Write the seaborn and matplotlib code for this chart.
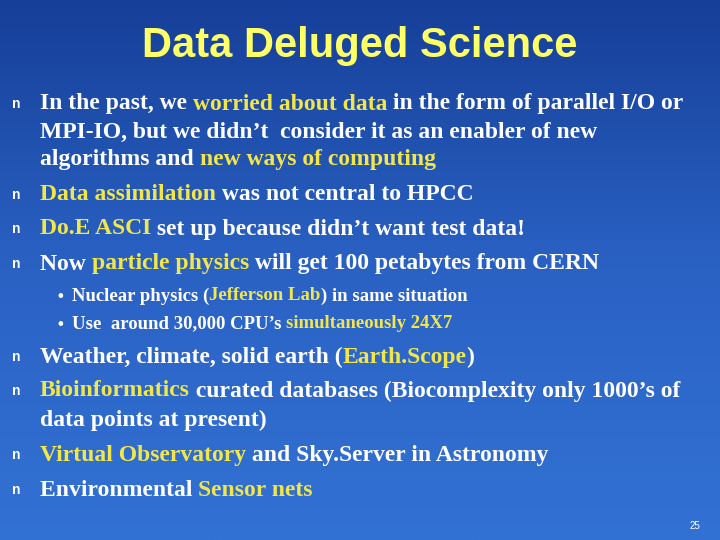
import matplotlib
matplotlib.use("Agg")
import matplotlib.pyplot as plt
import numpy as np
import seaborn as sns
from matplotlib.colors import LinearSegmentedColormap

sns.set_style("white")

WHITE = "#ffffff"
YEL = "#f2e64a"

title = "Data Deluged Science"
# each line: (kind, bullet, pixel y, [(text, highlighted), ...])
lines = [
    ("main", True, 104, [("In the past, we ", 0), ("worried about data", 1), (" in the form of parallel I/O or", 0)]),
    ("main", False, 132, [("MPI-IO, but we didn\u2019t  consider it as an enabler of new", 0)]),
    ("main", False, 160, [("algorithms and ", 0), ("new ways of computing", 1)]),
    ("main", True, 195, [("Data assimilation", 1), (" was not central to HPCC", 0)]),
    ("main", True, 229, [("Do.E ASCI", 1), (" set up because didn\u2019t want test data!", 0)]),
    ("main", True, 264, [("Now ", 0), ("particle physics", 1), (" will get 100 petabytes from CERN", 0)]),
    ("sub", True, 296, [("Nuclear physics (", 0), ("Jefferson Lab", 1), (") in same situation", 0)]),
    ("sub", True, 324, [("Use  around 30,000 CPU\u2019s ", 0), ("simultaneously 24X7", 1)]),
    ("main", True, 357, [("Weather, climate, solid earth (", 0), ("Earth.Scope", 1), (")", 0)]),
    ("main", True, 391, [("Bioinformatics", 1), (" curated databases (Biocomplexity only 1000\u2019s of", 0)]),
    ("main", False, 420, [("data points at present)", 0)]),
    ("main", True, 455, [("Virtual Observatory", 1), (" and Sky.Server in Astronomy", 0)]),
    ("main", True, 490, [("Environmental ", 0), ("Sensor nets", 1)]),
]
page_number = "25"

fig = plt.figure(figsize=(7.2, 5.4), dpi=100)
bg = fig.add_axes([0, 0, 1, 1])
cmap = LinearSegmentedColormap.from_list("bg", ["#163f98", "#2a62c4", "#3272d4"])
grad = np.linspace(0, 1, 256).reshape(-1, 1)
bg.imshow(grad, aspect="auto", cmap=cmap, extent=[0, 720, 540, 0])
bg.set_xlim(0, 720)
bg.set_ylim(540, 0)
bg.axis("off")

fig.canvas.draw()
renderer = fig.canvas.get_renderer()

bg.text(360, 46, title, ha="center", va="center", fontsize=30, fontweight="bold",
        family="Liberation Sans", color="#ffff66")

for kind, bullet, y, parts in lines:
    if kind == "main":
        fs, x0, bx, btxt, bfs = 17, 40, 12, "n", 10
    else:
        fs, x0, bx, btxt, bfs = 13.5, 72, 57, "\u2022", 12
    if bullet:
        bg.text(bx, y, btxt, ha="left", va="center", fontsize=bfs, fontweight="bold",
                family="Liberation Sans", color=WHITE)
    x = x0
    for txt, hl in parts:
        t = bg.text(x, y, txt, ha="left", va="center", fontsize=fs, fontweight="bold",
                    family="Liberation Serif", color=YEL if hl else WHITE)
        bb = t.get_window_extent(renderer=renderer)
        x += bb.width

bg.text(700, 526, page_number, ha="right", va="center", fontsize=7, color=WHITE,
        family="Liberation Sans")

fig.savefig("out.png", dpi=100)
